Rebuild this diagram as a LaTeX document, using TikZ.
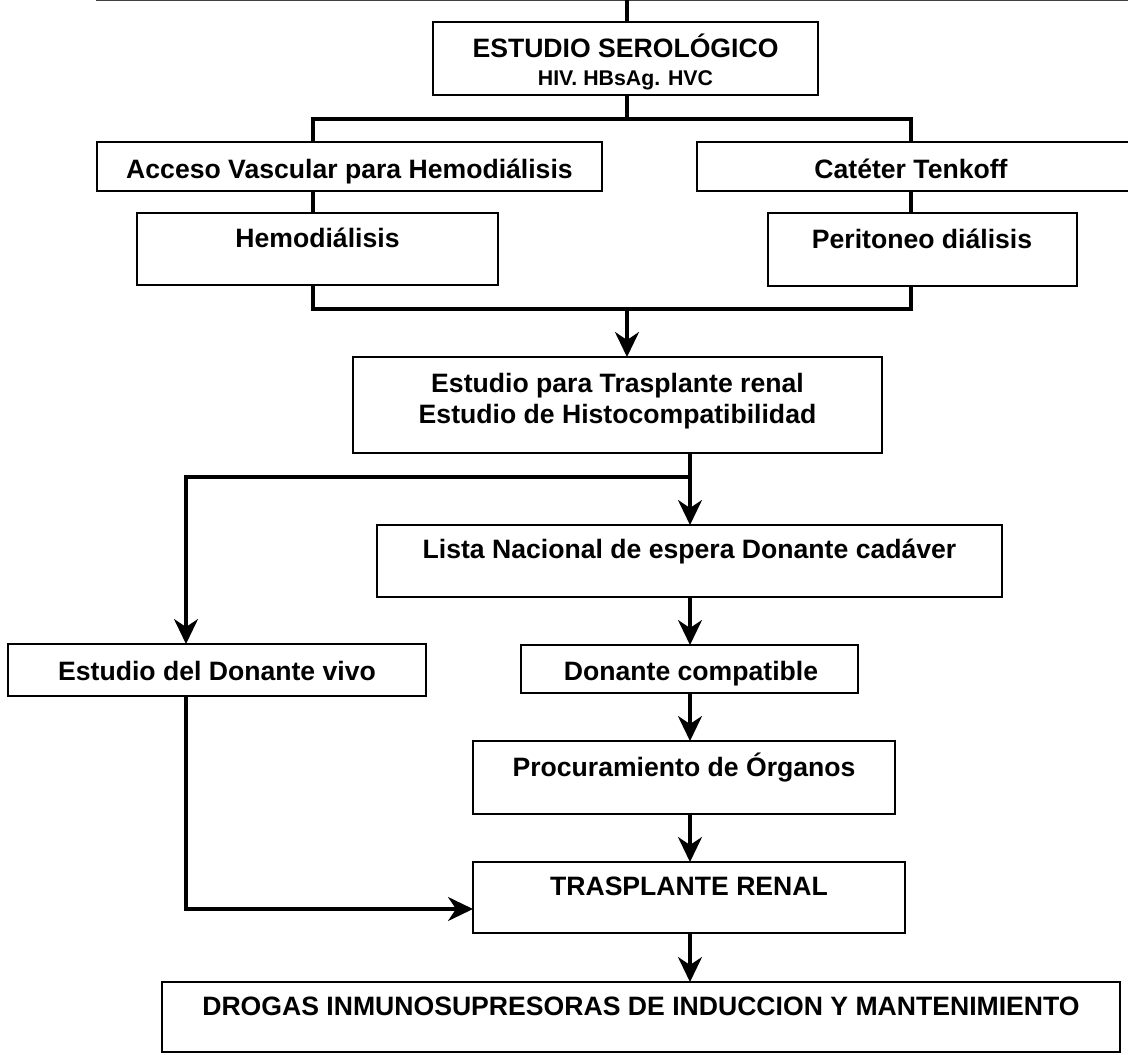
\documentclass[tikz,border=0pt]{standalone}
\usepackage{fontspec}
\setmainfont{Liberation Sans}
\usetikzlibrary{arrows.meta}
\begin{document}
\begin{tikzpicture}[x=1pt,y=-1pt,
  box/.style={draw=black, line width=2.6pt, rectangle, inner sep=0pt, outer sep=0pt},
  lbl/.style={anchor=base, inner sep=0pt, font=\fontsize{26.6}{30}\selectfont\bfseries},
  slbl/.style={anchor=base, inner sep=0pt, font=\fontsize{21.3}{24}\selectfont\bfseries},
  conn/.style={draw=black, line width=3.2pt, line join=miter},
  arr/.style={conn, -{Stealth[length=25pt,width=24pt,inset=8pt]}}]
\useasboundingbox (0,0) rectangle (1128,1055);
\clip (0,0) rectangle (1128,1055);
\fill[white] (0,0) rectangle (1128,1055);

% boxes
\node[box, minimum width=385pt, minimum height=73pt] (ser) at (625.5,58.5) {};
\node[box, minimum width=505pt, minimum height=49pt] (acc) at (349.5,166.5) {};
\node[box, minimum width=438pt, minimum height=49pt] (cat) at (916,166.5) {};
\node[box, minimum width=361pt, minimum height=72pt] (hem) at (317.5,249) {};
\node[box, minimum width=309pt, minimum height=73pt] (per) at (922.5,249.5) {};
\node[box, minimum width=529pt, minimum height=96pt] (est) at (617.5,405) {};
\node[box, minimum width=625pt, minimum height=72pt] (lis) at (689.5,561) {};
\node[box, minimum width=418pt, minimum height=52pt] (viv) at (217,670) {};
\node[box, minimum width=337pt, minimum height=48pt] (com) at (689.5,669) {};
\node[box, minimum width=422pt, minimum height=73pt] (pro) at (684,777.5) {};
\node[box, minimum width=432pt, minimum height=71pt] (tra) at (689,897.5) {};
\node[box, minimum width=958pt, minimum height=70pt] (dro) at (641,1017) {};

% texts
\node[lbl] (sert) at (625.5,57) {ESTUDIO SEROLÓGICO};
\node[slbl] (sers) at (625.5,85) {HIV. HBsAg. HVC};
\node[lbl] (acct) at (349.5,178) {Acceso Vascular para Hemodiálisis};
\node[lbl] (catt) at (911,178) {Catéter Tenkoff};
\node[lbl] (hemt) at (317.5,247) {Hemodiálisis};
\node[lbl] (pert) at (922,248) {Peritoneo diálisis};
\node[lbl] (estt1) at (617.5,392) {Estudio para Trasplante renal};
\node[lbl] (estt2) at (617.5,423) {Estudio de Histocompatibilidad};
\node[lbl] (list) at (689.5,558) {Lista Nacional de espera Donante cadáver};
\node[lbl] (vivt) at (217,680) {Estudio del Donante vivo};
\node[lbl] (comt) at (691,680) {Donante compatible};
\node[lbl] (prot) at (684,776) {Procuramiento de Órganos};
\node[lbl] (trat) at (689,895) {TRASPLANTE RENAL};
\node[lbl] (drot) at (641,1015) {DROGAS INMUNOSUPRESORAS DE INDUCCION Y MANTENIMIENTO};

% coordinates
\coordinate (tl) at (96,0);
\coordinate (tr) at (1132,0);
\coordinate (t0) at (627,0);
\coordinate (bL) at (313,119);
\coordinate (bR) at (911,119);
\coordinate (cL) at (313,309);
\coordinate (cR) at (911,309);
\coordinate (cM) at (627,309);
\coordinate (dM) at (690,477);
\coordinate (dL) at (186,477);
\coordinate (eL) at (186,909);

% connectors
\draw[line width=2pt, draw=black!75] (tl) -- (tr);
\draw[conn] (t0) -- (ser.north -| t0);
\draw[conn] (ser.south -| t0) -- (t0 |- bL);
\draw[conn] (acc.north -| bL) -- (bL) -- (bR) -- (cat.north -| bR);
\draw[conn] (acc.south -| bL) -- (hem.north -| bL);
\draw[conn] (cat.south -| bR) -- (per.north -| bR);
\draw[conn] (hem.south -| cL) -- (cL) -- (cR) -- (per.south -| cR);
\draw[arr] (cM) -- (est.north -| cM);
\draw[arr] (est.south -| dM) -- (lis.north -| dM);
\draw[arr] (dM) -- (dL) -- (viv.north -| dL);
\draw[arr] (lis.south -| dM) -- (com.north -| dM);
\draw[arr] (com.south -| dM) -- (pro.north -| dM);
\draw[arr] (pro.south -| dM) -- (tra.north -| dM);
\draw[arr] (tra.south -| dM) -- (dro.north -| dM);
\draw[arr] (viv.south -| dL) -- (eL) -- (tra.west |- eL);
\end{tikzpicture}
\end{document}
